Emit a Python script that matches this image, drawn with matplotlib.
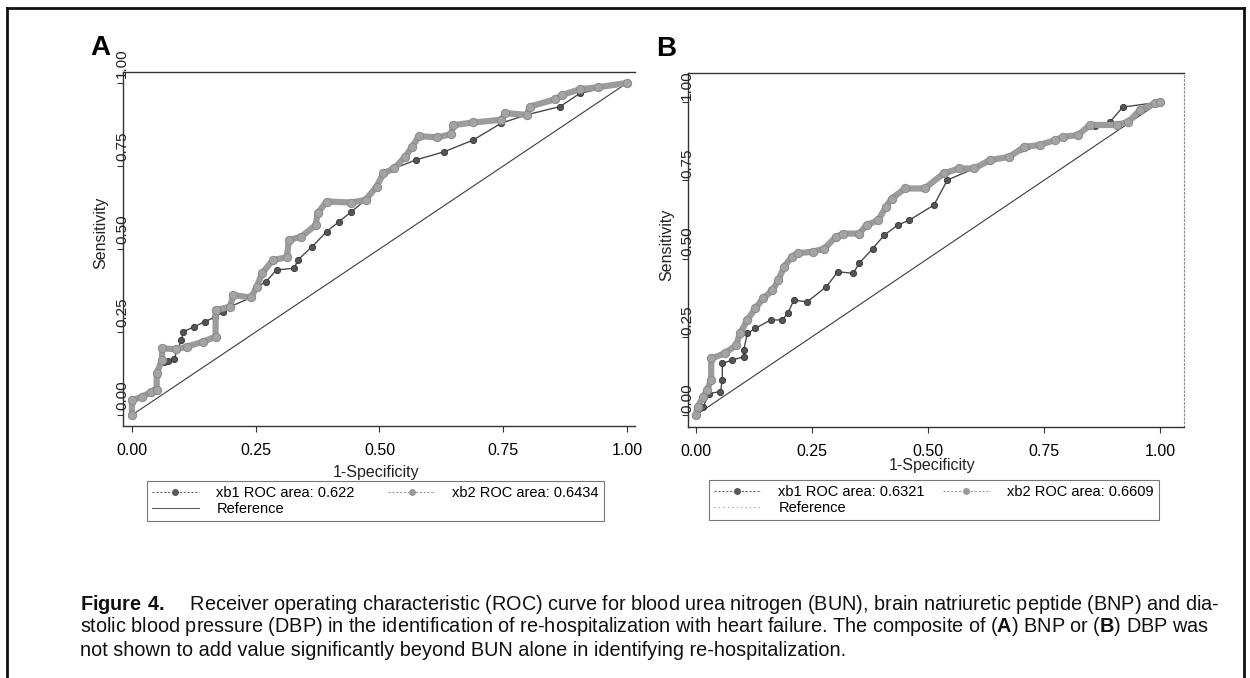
import matplotlib
matplotlib.use('Agg')
import matplotlib.pyplot as plt
from matplotlib import font_manager as fm
from matplotlib.lines import Line2D
from matplotlib.transforms import ScaledTranslation

# ---------------- data ----------------
tick_vals = [0.0, 0.25, 0.5, 0.75, 1.0]
tick_labels = ['0.00', '0.25', '0.50', '0.75', '1.00']
ref_x = [0.0, 1.0]
ref_y = [0.0, 1.0]

# Panel A (BUN vs BUN + BNP)
a_xb1_x = [0.0, 0.0, 0.02, 0.045, 0.05, 0.065, 0.073, 0.085, 0.10, 0.104, 0.126, 0.147, 0.168,
           0.184, 0.198, 0.241, 0.252, 0.27, 0.292, 0.328, 0.335, 0.364, 0.393, 0.418, 0.443,
           0.472, 0.494, 0.508, 0.530, 0.573, 0.631, 0.689, 0.746, 0.797, 0.865, 0.905, 1.0]
a_xb1_y = [0.0, 0.04, 0.055, 0.075, 0.12, 0.16, 0.163, 0.17, 0.226, 0.251, 0.266, 0.281, 0.295,
           0.311, 0.326, 0.354, 0.387, 0.40, 0.437, 0.442, 0.467, 0.507, 0.552, 0.582, 0.612,
           0.648, 0.688, 0.728, 0.743, 0.768, 0.793, 0.828, 0.879, 0.904, 0.929, 0.969, 1.0]
a_xb2_x = [0.0, 0.0, 0.021, 0.039, 0.050, 0.050, 0.061, 0.061, 0.090, 0.111, 0.144, 0.169, 0.169,
           0.198, 0.205, 0.241, 0.252, 0.263, 0.285, 0.313, 0.317, 0.342, 0.371, 0.375, 0.393,
           0.443, 0.472, 0.494, 0.508, 0.530, 0.552, 0.566, 0.580, 0.616, 0.645, 0.649, 0.689,
           0.746, 0.754, 0.797, 0.804, 0.855, 0.869, 0.905, 0.941, 1.0]
a_xb2_y = [0.0, 0.045, 0.055, 0.070, 0.075, 0.126, 0.166, 0.201, 0.198, 0.206, 0.221, 0.236, 0.316,
           0.326, 0.361, 0.354, 0.387, 0.427, 0.467, 0.475, 0.527, 0.537, 0.572, 0.607, 0.643,
           0.640, 0.648, 0.688, 0.728, 0.743, 0.778, 0.808, 0.840, 0.836, 0.846, 0.873, 0.881,
           0.889, 0.909, 0.904, 0.929, 0.951, 0.964, 0.981, 0.987, 1.0]
a_labels = ['xb1 ROC area: 0.622', 'xb2 ROC area: 0.6434', 'Reference']

# Panel B (BUN vs BUN + DBP)
b_xb1_x = [0.0, 0.016, 0.028, 0.053, 0.057, 0.057, 0.078, 0.103, 0.103, 0.111, 0.128, 0.161,
           0.186, 0.198, 0.211, 0.240, 0.281, 0.306, 0.339, 0.352, 0.381, 0.406, 0.435, 0.460,
           0.513, 0.542, 0.600, 0.675, 0.741, 0.824, 0.860, 0.892, 0.920, 1.0]
b_xb1_y = [0.0, 0.027, 0.069, 0.075, 0.112, 0.165, 0.176, 0.186, 0.208, 0.261, 0.277, 0.304,
           0.304, 0.325, 0.367, 0.362, 0.410, 0.458, 0.453, 0.485, 0.532, 0.575, 0.607, 0.623,
           0.671, 0.751, 0.788, 0.825, 0.863, 0.895, 0.925, 0.936, 0.984, 1.0]
b_xb2_x = [0.0, 0.004, 0.016, 0.024, 0.033, 0.033, 0.062, 0.087, 0.095, 0.111, 0.128, 0.145,
           0.165, 0.178, 0.190, 0.207, 0.219, 0.252, 0.277, 0.302, 0.318, 0.352, 0.368, 0.393,
           0.410, 0.422, 0.451, 0.493, 0.534, 0.567, 0.600, 0.634, 0.675, 0.708, 0.741, 0.775,
           0.791, 0.824, 0.849, 0.907, 0.932, 0.957, 0.990, 1.0]
b_xb2_y = [0.0, 0.027, 0.059, 0.080, 0.112, 0.181, 0.197, 0.224, 0.261, 0.304, 0.341, 0.373,
           0.399, 0.431, 0.474, 0.506, 0.517, 0.522, 0.532, 0.570, 0.580, 0.580, 0.607, 0.623,
           0.666, 0.692, 0.724, 0.724, 0.772, 0.788, 0.788, 0.815, 0.825, 0.857, 0.863, 0.879,
           0.889, 0.895, 0.927, 0.927, 0.937, 0.974, 0.996, 1.0]
b_labels = ['xb1 ROC area: 0.6321', 'xb2 ROC area: 0.6609', 'Reference']

panel_letters = ['A', 'B']
x_title = '1-Specificity'
y_title = 'Sensitivity'
caption_lines = [
    r'$\mathbf{Figure\ 4.}$    Receiver operating characteristic (ROC) curve for blood urea nitrogen (BUN), brain natriuretic peptide (BNP) and dia-',
    r'stolic blood pressure (DBP) in the identification of re-hospitalization with heart failure. The composite of ($\mathbf{A}$) BNP or ($\mathbf{B}$) DBP was',
    r'not shown to add value significantly beyond BUN alone in identifying re-hospitalization.',
]

# ---------------- style ----------------
names = {f.name for f in fm.fontManager.ttflist}
FONT = 'Liberation Sans Narrow' if 'Liberation Sans Narrow' in names else 'Liberation Sans'
plt.rcParams['font.family'] = [FONT, 'DejaVu Sans']
plt.rcParams['mathtext.fontset'] = 'custom'
plt.rcParams['mathtext.rm'] = FONT
plt.rcParams['mathtext.bf'] = FONT + ':bold'

W, H = 1250, 678
fig = plt.figure(figsize=(W / 100, H / 100), dpi=100)
fig.patch.set_facecolor('white')

DARK = '#4a4a4a'
LIGHT = '#9c9c9c'
AX = '#333333'


def ax_px(l, t, r, b):
    return fig.add_axes([l / W, 1 - b / H, (r - l) / W, (b - t) / H])


def draw_panel(ax, x1, y1, x2, y2, xlim, ylim, right_dotted, ylab_xy, xlab_xy, lab_shift):
    ax.plot(ref_x, ref_y, color='#3c3c3c', lw=0.8, zorder=2)
    ax.plot(x1, y1, color=DARK, lw=1.0, marker='o', ms=4.5, mfc='#555555', mec='#333333',
            mew=0.6, zorder=3)
    ax.plot(x2, y2, color=LIGHT, lw=4.5, marker='o', ms=6, mfc='#a4a4a4', mec='#8a8a8a',
            mew=0.7, zorder=4, solid_joinstyle='round')
    ax.set_xlim(*xlim)
    ax.set_ylim(*ylim)
    ax.set_xticks(tick_vals)
    ax.set_xticklabels(tick_labels, fontsize=11.5)
    ax.set_yticks(tick_vals)
    ax.set_yticklabels([])
    ax.tick_params(axis='x', length=4, width=0.8, color=AX, pad=8)
    ax.tick_params(axis='y', length=4, width=0.8, color=AX)
    # rotated y labels sit on the axis line, printed a little above their ticks (as in the scan)
    off = ScaledTranslation(-1 / 100, lab_shift / 100, fig.dpi_scale_trans)
    for v, lab in zip(tick_vals, tick_labels):
        ax.text(0, v, lab, transform=ax.get_yaxis_transform() + off, rotation=90,
                ha='center', va='center', fontsize=11, color='#222222', clip_on=False)
    for s in ['left', 'bottom', 'top']:
        ax.spines[s].set_color(AX)
        ax.spines[s].set_linewidth(1.0)
    if right_dotted:
        ax.spines['right'].set_color('#8a8a8a')
        ax.spines['right'].set_linestyle((0, (1.5, 2)))
        ax.spines['right'].set_linewidth(0.8)
    else:
        ax.spines['right'].set_visible(False)
    ax.set_ylabel(y_title, fontsize=11.5, color='#222222')
    ax.set_xlabel(x_title, fontsize=11.5, color='#222222')
    ax.yaxis.set_label_coords(*ylab_xy)
    ax.xaxis.set_label_coords(*xlab_xy)


def legend_for(labels, left, top, colsp, ref_dotted):
    h1 = Line2D([], [], color='#6a6a6a', lw=0.8, ls=(0, (2, 1.5)), marker='o', ms=4,
                mfc='#5a5a5a', mec='#5a5a5a')
    h2 = Line2D([], [], color='#9a9a9a', lw=0.8, ls=(0, (2, 1.5)), marker='o', ms=4,
                mfc='#9a9a9a', mec='#9a9a9a')
    if ref_dotted:
        h3 = Line2D([], [], color='#9a9a9a', lw=0.8, ls=(0, (1, 3)))
    else:
        h3 = Line2D([], [], color='#555555', lw=0.7)
    leg = fig.legend([h1, h3, h2], [labels[0], labels[2], labels[1]], ncol=2,
                     loc='upper left', bbox_to_anchor=(left / W, 1 - top / H),
                     fontsize=10.5, frameon=True, fancybox=False, edgecolor='#555555',
                     handlelength=3.2, handletextpad=1.2, columnspacing=colsp,
                     labelspacing=0.15, borderpad=0.35, borderaxespad=0)
    leg.get_frame().set_linewidth(0.8)
    return leg


# Panel A
axA = ax_px(123, 72, 635, 426)
draw_panel(axA, a_xb1_x, a_xb1_y, a_xb2_x, a_xb2_y,
           (-0.018, 1.016), (-0.033, 1.033), False,
           (-0.028, 0.545), (0.494, -0.11), 20)
# Panel B
axB = ax_px(688, 73, 1184, 427)
draw_panel(axB, b_xb1_x, b_xb1_y, b_xb2_x, b_xb2_y,
           (-0.017, 1.052), (-0.038, 1.093), True,
           (-0.028, 0.514), (0.492, -0.088), 17)

fig.text(100 / W, 1 - 48 / H, panel_letters[0], fontsize=20, fontweight='bold',
         ha='center', va='center', family='Liberation Sans')
fig.text(666 / W, 1 - 49 / H, panel_letters[1], fontsize=20, fontweight='bold',
         ha='center', va='center', family='Liberation Sans')

legend_for(a_labels, 147, 481, 2.3, False)
legend_for(b_labels, 709, 480, 1.25, True)

# caption: fit font size so line 1 spans the measured width
renderer = fig.canvas.get_renderer()
probe = fig.text(0, 0, caption_lines[0], fontsize=12)
w0 = probe.get_window_extent(renderer=renderer).width
probe.remove()
cap_size = 12 * 1140 / w0
for i, line in enumerate(caption_lines):
    fig.text(80 / W, 1 - (604 + 23 * i) / H, line, fontsize=cap_size, ha='left',
             va='center', color='#111111')

# outer frame (left, top, right)
frame_kw = dict(color='#111111', lw=2.0, transform=fig.transFigure)
fig.add_artist(Line2D([7 / W, 7 / W], [0, 1 - 8 / H], **frame_kw))
fig.add_artist(Line2D([7 / W, 1244 / W], [1 - 8 / H, 1 - 8 / H], **frame_kw))
fig.add_artist(Line2D([1244 / W, 1244 / W], [0, 1 - 8 / H], **frame_kw))

fig.savefig('out.png', dpi=100, facecolor='white')
